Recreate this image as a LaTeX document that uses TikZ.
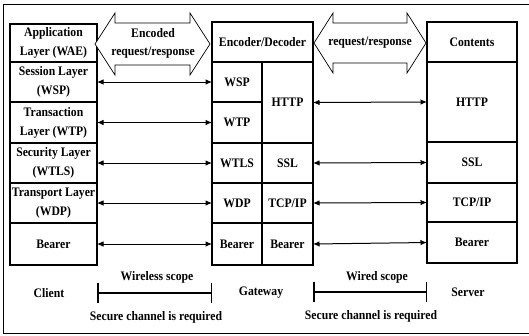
\documentclass[tikz,border=0pt]{standalone}
\usepackage{fontspec}
\setmainfont{Liberation Serif}[FakeStretch=0.9]
\usetikzlibrary{arrows.meta,positioning}
\tikzset{
  cell/.style={draw, line width=1.5pt, anchor=north west, inner sep=0pt, outer sep=0pt, align=center},
  link/.style={{Latex[length=6.5pt,width=5.5pt]}-{Latex[length=6.5pt,width=5.5pt]}, line width=1pt},
  bigarr/.style={draw, line width=0.7pt, fill=white},
  scope/.style={{Bar[width=20pt]}-{Bar[width=20pt]}, line width=1.5pt},
  lbl/.style={align=center, inner sep=0pt}}

\begin{document}
\begin{tikzpicture}[x=1pt, y=-1pt, font=\fontsize{13}{19}\selectfont\bfseries]
  \useasboundingbox (0,0) rectangle (529,335);
  % frame
  \draw[line width=1pt] (529,4) -- (3,4) -- (3,333) -- (529,333);
  % client stack
  \node[cell, minimum width=87pt, minimum height=38pt] (cApp) at (10,24) {Application\\Layer (WAE)};
  \node[cell, minimum width=87pt, minimum height=40pt] (cSes) at (10,62) {Session Layer\\(WSP)};
  \node[cell, minimum width=87pt, minimum height=41pt] (cTra) at (10,102) {Transaction\\Layer (WTP)};
  \node[cell, minimum width=87pt, minimum height=40pt] (cSec) at (10,143) {Security Layer\\(WTLS)};
  \node[cell, minimum width=87pt, minimum height=40pt] (cTrn) at (10,183) {Transport Layer\\(WDP)};
  \node[cell, minimum width=87pt, minimum height=42pt] (cBea) at (10,223) {Bearer};
  % gateway stack
  \node[cell, minimum width=101pt, minimum height=40pt] (gEnc) at (212,22) {Encoder/Decoder};
  \node[cell, minimum width=50pt, minimum height=40pt] (gWsp) at (212,62) {WSP};
  \node[cell, minimum width=50pt, minimum height=41pt] (gWtp) at (212,102) {WTP};
  \node[cell, minimum width=50pt, minimum height=40pt] (gWtls) at (212,143) {WTLS};
  \node[cell, minimum width=50pt, minimum height=40pt] (gWdp) at (212,183) {WDP};
  \node[cell, minimum width=50pt, minimum height=42pt] (gBea) at (212,223) {Bearer};
  \node[cell, minimum width=51pt, minimum height=81pt] (gHttp) at (262,62) {HTTP};
  \node[cell, minimum width=51pt, minimum height=40pt] (gSsl) at (262,143) {SSL};
  \node[cell, minimum width=51pt, minimum height=40pt] (gTcp) at (262,183) {TCP/IP};
  \node[cell, minimum width=51pt, minimum height=42pt] (gBea2) at (262,223) {Bearer};
  % server stack
  \node[cell, minimum width=90pt, minimum height=40pt] (sCon) at (427,22) {Contents};
  \node[cell, minimum width=90pt, minimum height=80pt] (sHttp) at (427,62) {HTTP};
  \node[cell, minimum width=90pt, minimum height=41pt] (sSsl) at (427,142) {SSL};
  \node[cell, minimum width=90pt, minimum height=39pt] (sTcp) at (427,183) {TCP/IP};
  \node[cell, minimum width=90pt, minimum height=41pt] (sBea) at (427,222) {Bearer};
  % big double arrows
  \draw[bigarr] (95,44) -- (115,13) -- (115,23) -- (190,23) -- (190,13) -- (210,44)
    -- (190,75) -- (190,65) -- (115,65) -- (115,75) -- cycle;
  \node[lbl] (encReq) at (153,43) {Encoded\\[-1pt]request/response};
  \draw[bigarr] (314,43) -- (333,13) -- (333,23) -- (407,23) -- (407,13) -- (426,43)
    -- (407,73) -- (407,63) -- (333,63) -- (333,73) -- cycle;
  \node[lbl] (req) at (370,43) {request/response};
  % peer links
  \draw[link] (cSes.east) -- (gWsp.west);
  \draw[link] (cTra.east) -- (gWtp.west);
  \draw[link] (cSec.east) -- (gWtls.west);
  \draw[link] (cTrn.east) -- (gWdp.west);
  \draw[link] (cBea.east) -- (gBea.west);
  \draw[link] (gHttp.east) -- (sHttp.west);
  \draw[link] (gSsl.east) -- (sSsl.west);
  \draw[link] (gTcp.east) -- (sTcp.west);
  \draw[link] (gBea2.east) -- (sBea.west);
  % bottom labels and scopes
  \node[lbl] (client) at (49,293) {Client};
  \node[lbl] (gateway) at (261,293) {Gateway};
  \node[lbl] (server) at (468,292) {Server};
  \coordinate (wlA) at (97,293);
  \coordinate (wlB) at (212,293);
  \coordinate (wdA) at (313,292);
  \coordinate (wdB) at (427,292);
  \draw[scope] (wlA) -- (wlB);
  \draw[scope] (wdA) -- (wdB);
  \node[lbl] (wless) at (157,277) {Wireless scope};
  \node[lbl] (wired) at (377,277) {Wired scope};
  \node[lbl] (secL) at (156,317) {Secure channel is required};
  \node[lbl] (secR) at (371,316) {Secure channel is required};
\end{tikzpicture}
\end{document}
